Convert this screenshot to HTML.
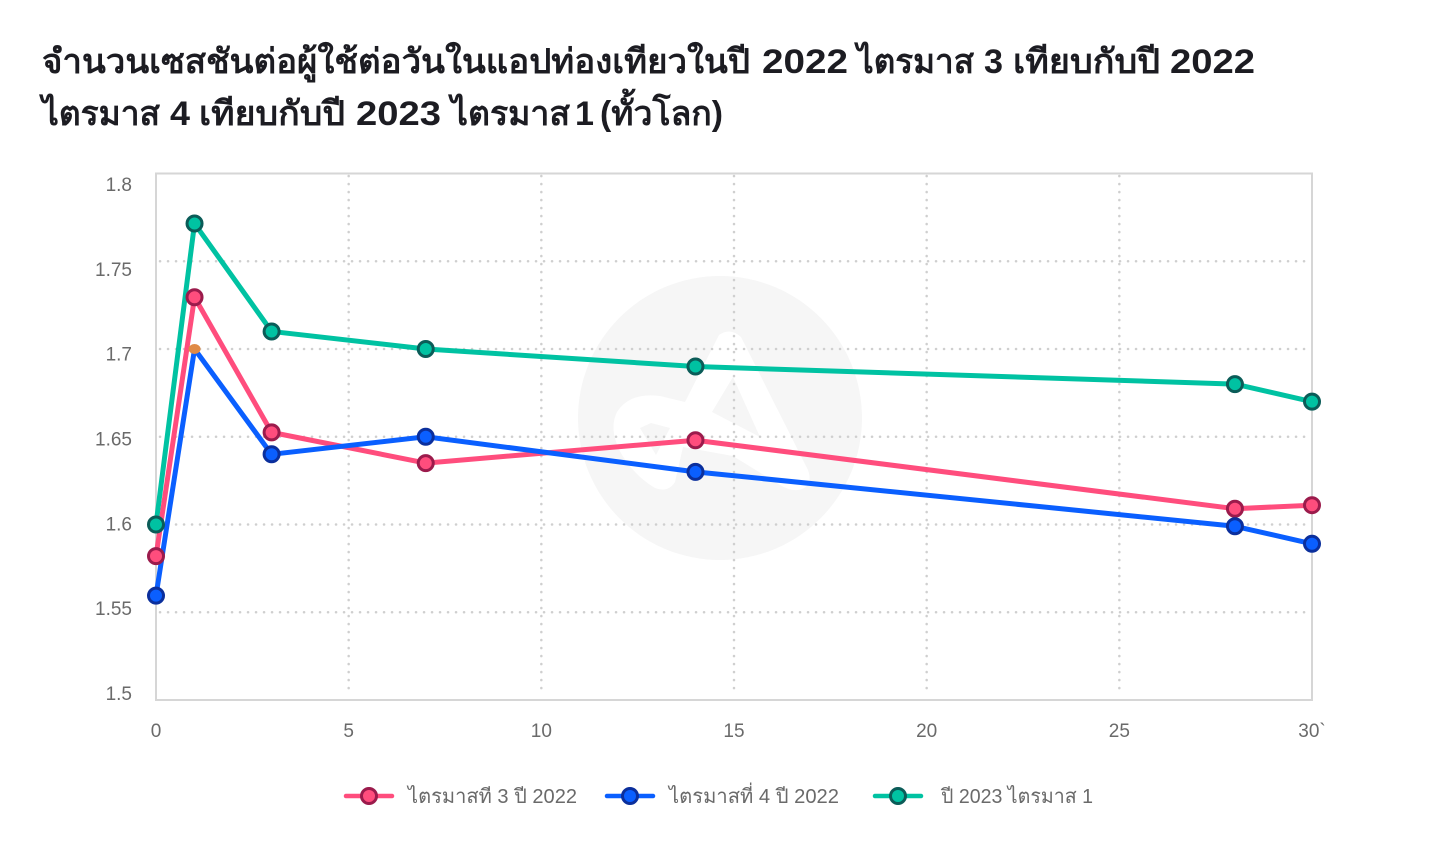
<!DOCTYPE html>
<html lang="th">
<head>
<meta charset="utf-8">
<title>จำนวนเซสชันต่อผู้ใช้ต่อวันในแอปท่องเที่ยว</title>
<style>
html,body{margin:0;padding:0;background:#fff;width:1440px;height:847px;overflow:hidden}
svg{display:block}
text{font-family:"Liberation Sans","Noto Sans CJK SC","DejaVu Sans",sans-serif}
</style>
</head>
<body>
<svg id="chart" width="1440" height="847" viewBox="0 0 1440 847" xmlns="http://www.w3.org/2000/svg">
  <text y="73" font-size="34" font-weight="700" fill="#1c1c22" lengthAdjust="spacingAndGlyphs"><tspan x="42" textLength="708" lengthAdjust="spacingAndGlyphs">จำนวนเซสชันต่อผู้ใช้ต่อวันในแอปท่องเทียวในปี</tspan> <tspan x="762" textLength="86" lengthAdjust="spacingAndGlyphs">2022</tspan> <tspan x="857" textLength="117" lengthAdjust="spacingAndGlyphs">ไตรมาส</tspan> <tspan x="984" textLength="19" lengthAdjust="spacingAndGlyphs">3</tspan> <tspan x="1013" textLength="147" lengthAdjust="spacingAndGlyphs">เทียบกับปี</tspan> <tspan x="1170" textLength="85" lengthAdjust="spacingAndGlyphs">2022</tspan></text>
  <text y="125" font-size="34" font-weight="700" fill="#1c1c22"><tspan x="42" textLength="118" lengthAdjust="spacingAndGlyphs">ไตรมาส</tspan> <tspan x="170" textLength="20" lengthAdjust="spacingAndGlyphs">4</tspan> <tspan x="199" textLength="146" lengthAdjust="spacingAndGlyphs">เทียบกับปี</tspan> <tspan x="356" textLength="85" lengthAdjust="spacingAndGlyphs">2023</tspan> <tspan x="451" textLength="119" lengthAdjust="spacingAndGlyphs">ไตรมาส</tspan> <tspan x="575" textLength="19" lengthAdjust="spacingAndGlyphs">1</tspan> <tspan x="600" textLength="123" lengthAdjust="spacingAndGlyphs">(ทั้วโลก)</tspan></text>

  <g>
    <circle cx="720" cy="418" r="142" fill="#f6f6f6"/>
    <path fill="#fff" fill-rule="evenodd" d="M719 335 Q730 327 741 337 L808 470 Q814 487 798 490 Q790 491 780 485 L733 456 L683 447 L675 482 Q668 493 655 488 Q635 476 622 455 Q608 430 617 412 Q630 392 660 396 L685 402 Z M712 412 L733 377 L760 437 Z M640 428 L651 423 L670 428 L656 455 Z"/>
  </g>

  <g id="grid"></g>
  <rect x="156" y="173.5" width="1156" height="526.5" fill="none" stroke="#d6d6d6" stroke-width="2"/>
  <g id="yTicks"></g>
  <g id="xTicks"></g>
  <g id="lines"></g>
  <g id="points"></g>

  <g>
    <g>
      <line x1="346" y1="796" x2="392" y2="796" stroke="#ff4d7d" stroke-width="4.5" stroke-linecap="round"/>
      <circle cx="369" cy="796" r="7.5" fill="#ff4d7d" stroke="#9b1b4c" stroke-width="3"/>
      <text x="408" y="803" font-size="20" fill="#6a6a6a" textLength="169" lengthAdjust="spacingAndGlyphs">ไตรมาสที 3 ปี 2022</text>
    </g>
    <g>
      <line x1="607" y1="796" x2="653" y2="796" stroke="#0a5fff" stroke-width="4.5" stroke-linecap="round"/>
      <circle cx="630" cy="796" r="7.5" fill="#0a5fff" stroke="#0b2f9c" stroke-width="3"/>
      <text x="669" y="803" font-size="20" fill="#6a6a6a" textLength="170" lengthAdjust="spacingAndGlyphs">ไตรมาสที่ 4 ปี 2022</text>
    </g>
    <g>
      <line x1="875" y1="796" x2="921" y2="796" stroke="#00c2a2" stroke-width="4.5" stroke-linecap="round"/>
      <circle cx="898" cy="796" r="7.5" fill="#00c2a2" stroke="#0b5c58" stroke-width="3"/>
      <text x="941" y="803" font-size="20" fill="#6a6a6a" textLength="152" lengthAdjust="spacingAndGlyphs">ปี 2023 ไตรมาส 1</text>
    </g>
  </g>
</svg>
<script>
const days = [0, 1, 3, 7, 14, 28, 30];
const q3Values = [1.582, 1.7295, 1.6525, 1.635, 1.648, 1.609, 1.611];
const q4Values = [1.5595, 1.700, 1.640, 1.650, 1.630, 1.599, 1.589];
const q1Values = [1.600, 1.7715, 1.710, 1.700, 1.690, 1.680, 1.670];
const xTickValues = [0, 5, 10, 15, 20, 25, 30];
const xTickLabels = ['0', '5', '10', '15', '20', '25', '30`'];
const yTickValues = [1.8, 1.75, 1.7, 1.65, 1.6, 1.55, 1.5];
const yTickLabels = ['1.8', '1.75', '1.7', '1.65', '1.6', '1.55', '1.5'];
const highlightDay = 1;
const highlightValue = 1.7;

const NS = 'http://www.w3.org/2000/svg';
const xScale = d => 156 + d * (1156 / 30);
const yScale = v => 700 - (v - 1.5) * (526.5 / 0.3);
const yLabelScale = v => 700 - (v - 1.5) * (509 / 0.3);

function make(tag, parent, props) {
  const el = document.createElementNS(NS, tag);
  for (const k in props) el.setAttribute(k, props[k]);
  parent.appendChild(el);
  return el;
}

const grid = document.getElementById('grid');
xTickValues.slice(1, -1).forEach(t => {
  const el = make('line', grid, {x1: xScale(t), x2: xScale(t), y1: 176, y2: 696, stroke: '#cfcfcf', 'stroke-width': 2.5, 'stroke-dasharray': '0.1 7.9', 'stroke-linecap': 'round'});
  
  
});
yTickValues.slice(1, -1).forEach(t => {
  const el = make('line', grid, {x1: 160, x2: 1308, y1: yScale(t), y2: yScale(t), stroke: '#cfcfcf', 'stroke-width': 2.5, 'stroke-dasharray': '0.1 7.9', 'stroke-linecap': 'round'});
  
  
});

const yTicks = document.getElementById('yTicks');
yTickValues.forEach((t, i) => {
  const el = make('text', yTicks, {x: 132, y: yLabelScale(t), 'text-anchor': 'end', 'font-size': 19, fill: '#6a6a6a'});
  el.textContent = yTickLabels[i];
  
  
});

const xTicks = document.getElementById('xTicks');
xTickValues.forEach((t, i) => {
  const el = make('text', xTicks, {x: xScale(t), y: 737, 'text-anchor': 'middle', 'font-size': 19, fill: '#6a6a6a'});
  el.textContent = xTickLabels[i];
  
  
});

const linesGroup = document.getElementById('lines');
const pointsGroup = document.getElementById('points');
const toPath = vals => vals.map((v, i) => xScale(days[i]) + ',' + yScale(v)).join(' ');

const q1Line = make('polyline', linesGroup, {points: toPath(q1Values), fill: 'none', stroke: '#00c2a2', 'stroke-width': 5, 'stroke-linejoin': 'round'});


const q3Line = make('polyline', linesGroup, {points: toPath(q3Values), fill: 'none', stroke: '#ff4d7d', 'stroke-width': 5, 'stroke-linejoin': 'round'});


const q4Line = make('polyline', linesGroup, {points: toPath(q4Values), fill: 'none', stroke: '#0a5fff', 'stroke-width': 5, 'stroke-linejoin': 'round'});



q3Values.forEach((v, i) => {
  const el = make('circle', pointsGroup, {cx: xScale(days[i]), cy: yScale(v), r: 7.5, fill: '#ff4d7d', stroke: '#9b1b4c', 'stroke-width': 3});
  
  
});
q4Values.forEach((v, i) => {
  if (days[i] === highlightDay) return;
  const el = make('circle', pointsGroup, {cx: xScale(days[i]), cy: yScale(v), r: 7.5, fill: '#0a5fff', stroke: '#0b2f9c', 'stroke-width': 3});
  
  
});
q1Values.forEach((v, i) => {
  const el = make('circle', pointsGroup, {cx: xScale(days[i]), cy: yScale(v), r: 7.5, fill: '#00c2a2', stroke: '#0b5c58', 'stroke-width': 3});
  
  
});
const highlight = make('ellipse', pointsGroup, {cx: xScale(highlightDay), cy: yScale(highlightValue), rx: 6, ry: 5, fill: '#e08a45'});


</script>
</body>
</html>
